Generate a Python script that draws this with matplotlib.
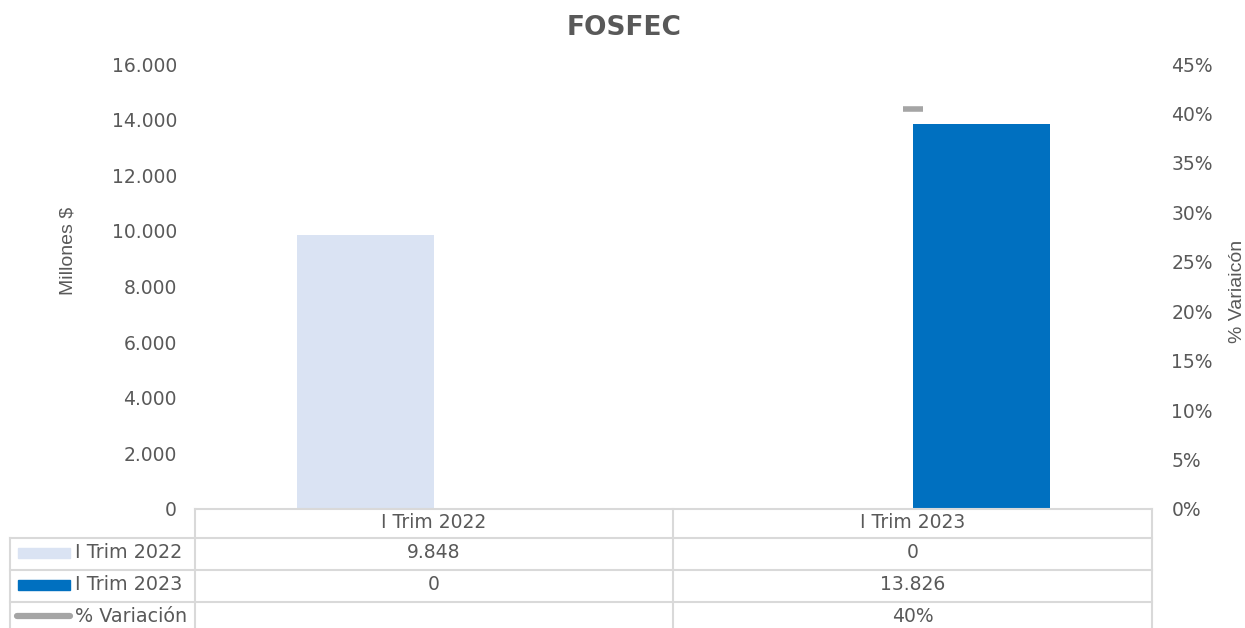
"""FOSFEC: recaudo I Trim 2022 vs I Trim 2023 con tabla de datos."""
import matplotlib

matplotlib.use("Agg")
import matplotlib.pyplot as plt
import numpy as np
from matplotlib.lines import Line2D
from matplotlib.patches import Rectangle
from matplotlib.ticker import FuncFormatter

categories = ["I Trim 2022", "I Trim 2023"]
series_names = ["I Trim 2022", "I Trim 2023"]
series_values = [[9848, 0], [0, 13826]]
variation = [np.nan, 0.404]
variation_labels = ["", "40%"]
series_colors = ["#DAE3F3", "#0070C0"]
line_color = "#A5A5A5"

TEXT = "#595959"
GRID = "#D9D9D9"
W, H = 1245, 628


def fx(x):
    return x / W


def fy(y):
    return 1 - y / H


def thousands(v, _pos=None):
    return f"{v:,.0f}".replace(",", ".")


def main():
    plt.rcParams["font.family"] = ["DejaVu Sans"]
    fig = plt.figure(figsize=(W / 100, H / 100), dpi=100)
    ax = fig.add_axes([fx(195), fy(509), fx(1152) - fx(195), fy(64) - fy(509)])
    ax2 = ax.twinx()

    x = np.arange(len(categories))
    width = 0.286
    offsets = [-0.1437, 0.1437]
    for vals, off, color in zip(series_values, offsets, series_colors):
        ax.bar(x + off, vals, width=width, color=color, zorder=2)
    ax2.plot(x, variation, color=line_color, marker="_", ms=14, mew=4,
             lw=4, solid_capstyle="round")

    ax.set_xlim(-0.5, len(categories) - 0.5)
    ax.set_ylim(0, 16000)
    ax.set_yticks(np.arange(0, 16001, 2000))
    ax.yaxis.set_major_formatter(FuncFormatter(thousands))
    ax2.set_ylim(0, 0.45)
    ax2.set_yticks(np.arange(0, 0.451, 0.05))
    ax2.yaxis.set_major_formatter(FuncFormatter(lambda v, p: f"{v:.0%}"))
    ax.set_xticks([])
    for a in (ax, ax2):
        for s in a.spines.values():
            s.set_visible(False)
    ax.tick_params(axis="y", length=0, pad=13, labelsize=13.5,
                   labelcolor=TEXT)
    ax2.tick_params(axis="y", length=0, pad=14, labelsize=13.5,
                    labelcolor=TEXT)

    fig.text(0.501, fy(28), "FOSFEC", ha="center", va="center",
             fontsize=19, fontweight="bold", color=TEXT)
    fig.text(fx(68), fy(251), "Millones $", rotation=90, ha="center",
             va="center", fontsize=14, color=TEXT,
             family="Liberation Sans")
    fig.text(fx(1237), fy(291), "% Variaicón", rotation=90, ha="center",
             va="center", fontsize=14, color=TEXT,
             family="Liberation Sans")

    # data table
    lw = 1.5
    cols = [195, 673, 1152]
    rows = [509, 538, 570, 602]

    def hline(y, x0, x1):
        fig.add_artist(Line2D([fx(x0), fx(x1)], [fy(y), fy(y)],
                              color=GRID, lw=lw))

    def vline(x0, y0, y1):
        fig.add_artist(Line2D([fx(x0), fx(x0)], [fy(y0), fy(y1)],
                              color=GRID, lw=lw))

    hline(rows[0], cols[0], cols[-1])
    for y in rows[1:]:
        hline(y, 10, cols[-1])
    for c in cols:
        vline(c, rows[0], H)
    vline(10, rows[1], H)

    centers = [(cols[i] + cols[i + 1]) / 2 for i in range(len(categories))]
    for cx, cat in zip(centers, categories):
        fig.text(fx(cx), fy(523), cat, ha="center", va="center",
                 fontsize=13.5, color=TEXT)

    row_y = [553, 585, 616]
    cells = [[thousands(v) for v in vals] for vals in series_values]
    cells.append(variation_labels)
    names = series_names + ["% Variación"]
    for i, (ry, name, row) in enumerate(zip(row_y, names, cells)):
        if i < len(series_colors):
            fig.add_artist(Rectangle((fx(18), fy(ry + 5)), fx(52),
                                     fy(0) - fy(10),
                                     color=series_colors[i]))
        else:
            fig.add_artist(Line2D([fx(17), fx(70)], [fy(ry), fy(ry)],
                                  color=line_color, lw=4.5,
                                  solid_capstyle="round"))
        fig.text(fx(75), fy(ry), name, ha="left", va="center",
                 fontsize=13.8, color=TEXT)
        for cx, val in zip(centers, row):
            fig.text(fx(cx), fy(ry), val, ha="center", va="center",
                     fontsize=13.5, color=TEXT)

    fig.savefig("out.png", dpi=100)


if __name__ == "__main__":
    main()
